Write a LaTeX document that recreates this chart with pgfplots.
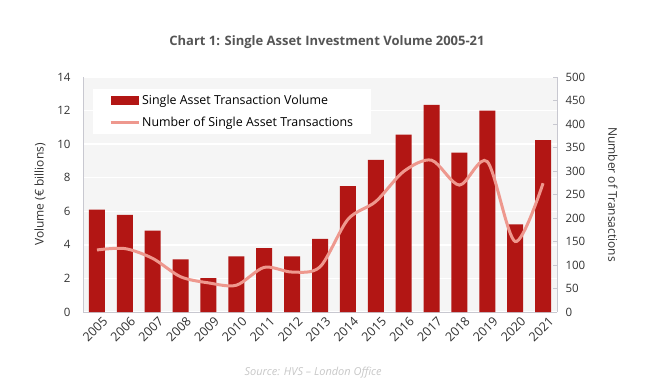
\documentclass[border=0pt]{standalone}
\usepackage{fontspec}
\setmainfont{Open Sans}
\usepackage{pgfplots}
\pgfplotsset{compat=1.18}
\definecolor{barred}{RGB}{178,22,20}
\definecolor{linesal}{RGB}{238,152,142}
\definecolor{txt}{RGB}{50,50,50}
\definecolor{titlegray}{RGB}{85,85,85}
\definecolor{bg}{RGB}{245,245,245}
\definecolor{axgray}{RGB}{200,200,208}
\begin{document}
\begin{tikzpicture}[x=1pt,y=1pt]
\useasboundingbox (0,0) rectangle (672,381);
\node[font=\fontsize{13}{15}\selectfont\bfseries, text=titlegray] at (327,339) {Chart 1: Single Asset Investment Volume 2005-21};
\node[font=\fontsize{11}{13}\selectfont\itshape, text=black!22, anchor=west] at (241,8) {Source: HVS -- London Office};
\begin{axis}[
  at={(83pt,69pt)}, anchor=south west, scale only axis,
  width=474pt, height=235pt,
  xmin=-0.5, xmax=16.5, ymin=0, ymax=14,
  ytick={0,2,...,14},
  xtick={0,...,16},
  xticklabels={2005,2006,2007,2008,2009,2010,2011,2012,2013,2014,2015,2016,2017,2018,2019,2020,2021},
  yticklabel style={xshift=-9pt},
  axis background/.style={fill=bg},
  ymajorgrids, grid style={white, line width=1.5pt},
  axis x line*=bottom, axis y line*=left,
  axis line style={axgray},
  major tick length=0pt,
  tick label style={font=\fontsize{11.5}{13}\selectfont, text=txt},
  x tick label style={rotate=45, anchor=north east, xshift=4pt, yshift=-3pt, font=\fontsize{12.5}{14}\selectfont},
  /pgf/number format/assume math mode=true,
  ylabel={Volume (€ billions)},
  every axis y label/.style={at={(axis description cs:-0.0907,0.5)}, rotate=90, anchor=center,
    font=\fontsize{12}{14}\selectfont, text=txt},
  legend style={at={(0.021,0.949)}, anchor=north west, draw=none, fill=white,
    font=\fontsize{12.4}{14}\selectfont, text=black, inner xsep=16pt, inner ysep=4pt, row sep=7pt},
  legend cell align=left,
  clip=false,
]
\addplot[ybar, bar width=16pt, fill=barred, draw=none,
  legend image code/.code={\fill[barred] (0pt,-4.5pt) rectangle (28pt,4.5pt);}]
  coordinates {(0,6.1) (1,5.78) (2,4.85) (3,3.13) (4,2.02) (5,3.31) (6,3.81) (7,3.31) (8,4.35) (9,7.5) (10,9.07) (11,10.56) (12,12.34) (13,9.5) (14,12.0) (15,5.22) (16,10.24)};
\addlegendentry{Single Asset Transaction Volume}
\addlegendimage{legend image code/.code={\draw[linesal, line width=3pt] (0pt,0pt) -- (28pt,0pt);}}
\addlegendentry{Number of Single Asset Transactions}
\end{axis}
\begin{axis}[
  at={(83pt,69pt)}, anchor=south west, scale only axis,
  width=474pt, height=235pt,
  xmin=-0.5, xmax=16.5, ymin=0, ymax=500,
  ytick={0,50,...,500},
  axis y line*=right, axis x line=none,
  axis line style={axgray},
  major tick length=4pt,
  every tick/.style={axgray},
  yticklabel style={xshift=5pt},
  tick label style={font=\fontsize{11.5}{13}\selectfont, text=txt},
  /pgf/number format/assume math mode=true,
  ylabel={Number of Transactions},
  every axis y label/.style={at={(axis description cs:1.118,0.5)}, rotate=-90, anchor=center,
    font=\fontsize{12}{14}\selectfont, text=txt},
]
\addplot[linesal, line width=3pt, smooth, tension=0.5]
  coordinates {(0,132) (1,135) (2,114) (3,75) (4,62) (5,57) (6,95) (7,85) (8,96) (9,197) (10,235) (11,299) (12,323) (13,270) (14,320) (15,150) (16,274)};
\end{axis}
\end{tikzpicture}
\end{document}
